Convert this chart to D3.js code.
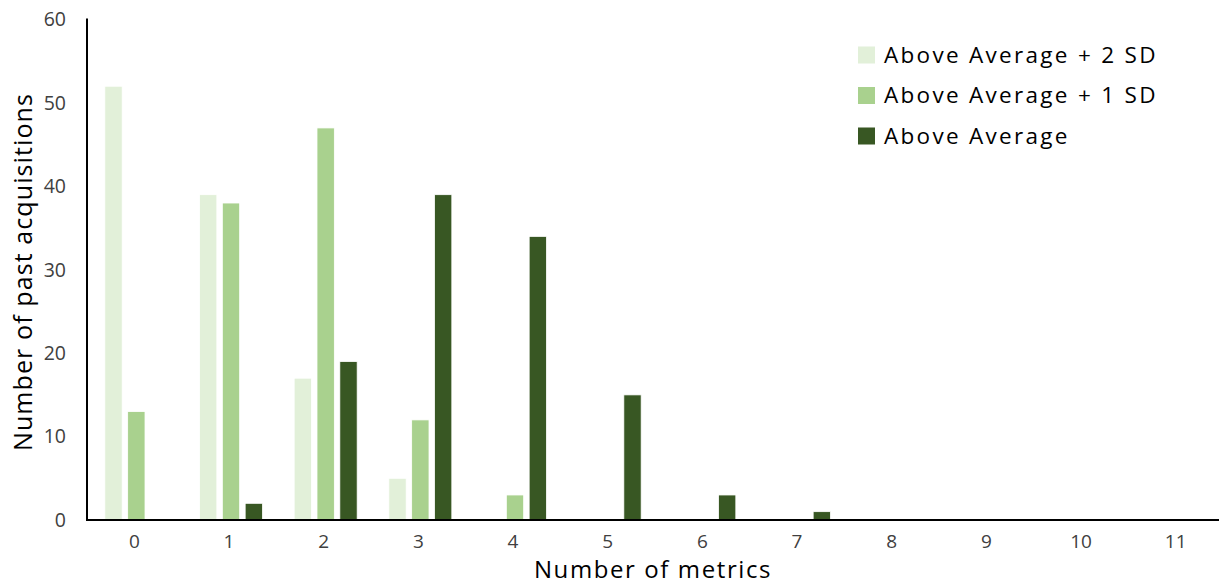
<!DOCTYPE html>
<html>
<head>
<meta charset="utf-8">
<script src="https://cdn.jsdelivr.net/npm/d3@7"></script>
<style>
  html, body { margin: 0; padding: 0; background: #fff; }
  svg { display: block; }
  text { font-family: "Open Sans", "Noto Sans", sans-serif; }
</style>
</head>
<body>
<svg id="chart" width="1219" height="582"></svg>
<script>
// Number of metrics on which each past acquisition scored above the threshold
const categories = ["0", "1", "2", "3", "4", "5", "6", "7", "8", "9", "10", "11"];
const seriesNames = ["Above Average + 2 SD", "Above Average + 1 SD", "Above Average"];
const aboveAvg2SD = [52, 39, 17, 5, 0, 0, 0, 0, 0, 0, 0, 0];
const aboveAvg1SD = [13, 38, 47, 12, 3, 0, 0, 0, 0, 0, 0, 0];
const aboveAvg    = [0, 2, 19, 39, 34, 15, 3, 1, 0, 0, 0, 0];
const yTicks = [0, 10, 20, 30, 40, 50, 60];
const colors = ["#E2F0D9", "#A9D18E", "#385723"];

const seriesValues = [aboveAvg2SD, aboveAvg1SD, aboveAvg];

const svg = d3.select("#chart");
const plotLeft = 87, plotRight = 1223, plotTop = 19.5, plotBottom = 520;

const x = d3.scaleBand().domain(categories).range([plotLeft, plotRight]).padding(0);
const y = d3.scaleLinear().domain([0, 60]).range([plotBottom, plotTop]);
const xInner = d3.scaleBand().domain(d3.range(seriesNames.length))
  .range([x.bandwidth() / 2 - 29.5, x.bandwidth() / 2 + 33.5]).paddingInner(0.24);

// bars
const groups = svg.append("g").selectAll("g")
  .data(seriesValues)
  .join("g")
  .attr("fill", (d, i) => colors[i]);

groups.each(function(vals, si) {
  d3.select(this).selectAll("rect")
    .data(vals.map((v, ci) => ({ v, c: categories[ci] })).filter(d => d.v > 0))
    .join("rect")
    .attr("x", d => x(d.c) + xInner(si))
    .attr("width", xInner.bandwidth())
    .attr("y", d => y(d.v))
    .attr("height", d => y(0) - y(d.v))
    .attr("stroke", "#ffffff")
    .attr("stroke-width", 0.8);
});

// y axis
const yAxis = d3.axisLeft(y).tickValues(yTicks).tickSize(0).tickPadding(21);
const yG = svg.append("g").attr("transform", `translate(${plotLeft},0)`).call(yAxis);
yG.select(".domain").remove();
yG.selectAll("text").attr("font-size", 19.5).attr("fill", "#404040")
  .style("font-family", "'Open Sans', sans-serif");

// x axis
const xAxis = d3.axisBottom(x).tickSize(0).tickPadding(15);
const xG = svg.append("g").attr("transform", `translate(0,${plotBottom})`).call(xAxis);
xG.select(".domain").remove();
xG.selectAll("text").attr("font-size", 19).attr("fill", "#404040")
  .style("font-family", "'Open Sans', sans-serif");

// axis lines
svg.append("line").attr("x1", plotLeft).attr("x2", plotLeft).attr("y1", plotTop - 1).attr("y2", plotBottom + 1)
  .attr("stroke", "#000").attr("stroke-width", 2);
svg.append("line").attr("x1", plotLeft - 1).attr("x2", 1219).attr("y1", plotBottom).attr("y2", plotBottom)
  .attr("stroke", "#000").attr("stroke-width", 2);

// axis titles
svg.append("text")
  .attr("transform", `translate(32,272) rotate(-90)`)
  .attr("text-anchor", "middle")
  .attr("font-size", 25)
  .attr("letter-spacing", 1.1)
  .attr("fill", "#000")
  .text("Number of past acquisitions");

svg.append("text")
  .attr("x", 653).attr("y", 578)
  .attr("text-anchor", "middle")
  .attr("font-size", 24)
  .attr("letter-spacing", 1.6)
  .attr("fill", "#000")
  .text("Number of metrics");

// legend
const legend = svg.append("g").selectAll("g")
  .data(seriesNames)
  .join("g")
  .attr("transform", (d, i) => `translate(858,${55 + i * 40.5})`);
legend.append("rect")
  .attr("x", 0).attr("y", -8.5).attr("width", 17).attr("height", 17)
  .attr("fill", (d, i) => colors[i]);
legend.append("text")
  .attr("x", 26).attr("y", 0).attr("dy", "0.35em")
  .attr("font-size", 22.5).attr("letter-spacing", 2.3).attr("fill", "#000")
  .text(d => d);
</script>
</body>
</html>
